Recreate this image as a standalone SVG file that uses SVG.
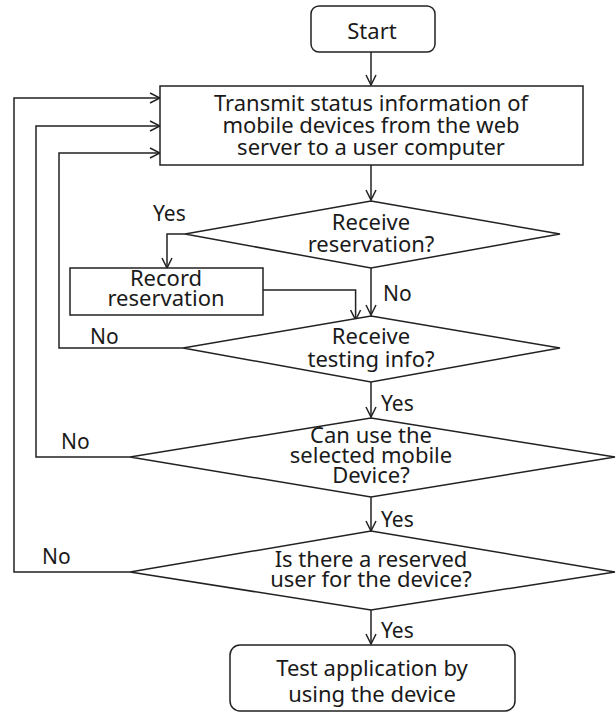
<svg xmlns="http://www.w3.org/2000/svg" width="616" height="713" viewBox="0 0 616 713">
<style>
.box{fill:#fff;stroke:#222;stroke-width:1.5}
.t{font-family:"Noto Sans",sans-serif;font-size:22px;fill:#1a1a1a;text-anchor:middle;dominant-baseline:central}
.lbl{font-family:"Noto Sans",sans-serif;font-size:21px;fill:#1a1a1a;dominant-baseline:central}
.c{fill:none;stroke:#222;stroke-width:1.5}
</style>
<defs>
<marker id="ah" viewBox="0 0 12 12" refX="11" refY="6" markerWidth="12" markerHeight="12" markerUnits="userSpaceOnUse" orient="auto">
<path d="M1,1 L11,6 L1,11" fill="none" stroke="#222" stroke-width="1.5"/>
</marker>
</defs>
<g id="connectors">
<path class="c" d="M371,52 V85" marker-end="url(#ah)"/>
<path class="c" d="M371,165 V200" marker-end="url(#ah)"/>
<path class="c" d="M185,234 H167 V268" marker-end="url(#ah)"/>
<path class="c" d="M263,290 H355.6 V320" marker-end="url(#ah)"/>
<path class="c" d="M371,268 V315" marker-end="url(#ah)"/>
<path class="c" d="M183,348 H59 V153 H160" marker-end="url(#ah)"/>
<path class="c" d="M371,382 V417" marker-end="url(#ah)"/>
<path class="c" d="M130,457 H36 V126 H160" marker-end="url(#ah)"/>
<path class="c" d="M371,497 V531" marker-end="url(#ah)"/>
<path class="c" d="M130,572 H14 V98 H160" marker-end="url(#ah)"/>
<path class="c" d="M371,610 V644" marker-end="url(#ah)"/>
<text class="lbl" x="153" y="213">Yes</text>
<text class="lbl" x="383" y="293">No</text>
<text class="lbl" x="90" y="336">No</text>
<text class="lbl" x="381" y="403">Yes</text>
<text class="lbl" x="61" y="441">No</text>
<text class="lbl" x="381" y="519">Yes</text>
<text class="lbl" x="42" y="556">No</text>
<text class="lbl" x="381" y="630">Yes</text>
</g>
<g id="start">
<rect class="box" x="311" y="6" width="124" height="46" rx="8"/>
<text class="t" x="372" y="30">Start</text>
</g>
<g id="transmit">
<rect class="box" x="160" y="86" width="423" height="79"/>
<text class="t" x="371" y="102">Transmit status information of</text>
<text class="t" x="371" y="124">mobile devices from the web</text>
<text class="t" x="371" y="146">server to a user computer</text>
</g>
<g id="receive-reservation">
<polygon class="box" points="371,201 560,234 371,268 185,234"/>
<text class="t" x="371" y="221">Receive</text>
<text class="t" x="371" y="243">reservation?</text>
</g>
<g id="record-reservation">
<rect class="box" x="70" y="268" width="193" height="47"/>
<text class="t" x="166" y="277">Record</text>
<text class="t" x="166" y="297">reservation</text>
</g>
<g id="receive-testing">
<polygon class="box" points="371,316 560,348 371,382 183,348"/>
<text class="t" x="371" y="335">Receive</text>
<text class="t" x="371" y="358">testing info?</text>
</g>
<g id="can-use">
<polygon class="box" points="371,418 615,457 371,497 130,457"/>
<text class="t" x="371" y="434">Can use the</text>
<text class="t" x="371" y="454">selected mobile</text>
<text class="t" x="371" y="474">Device?</text>
</g>
<g id="reserved-user">
<polygon class="box" points="371,531 615,572 371,610 130,572"/>
<text class="t" x="371" y="558">Is there a reserved</text>
<text class="t" x="371" y="578">user for the device?</text>
</g>
<g id="test-app">
<rect class="box" x="230" y="645" width="285" height="66" rx="10"/>
<text class="t" x="372" y="667">Test application by</text>
<text class="t" x="372" y="693">using the device</text>
</g>
</svg>
